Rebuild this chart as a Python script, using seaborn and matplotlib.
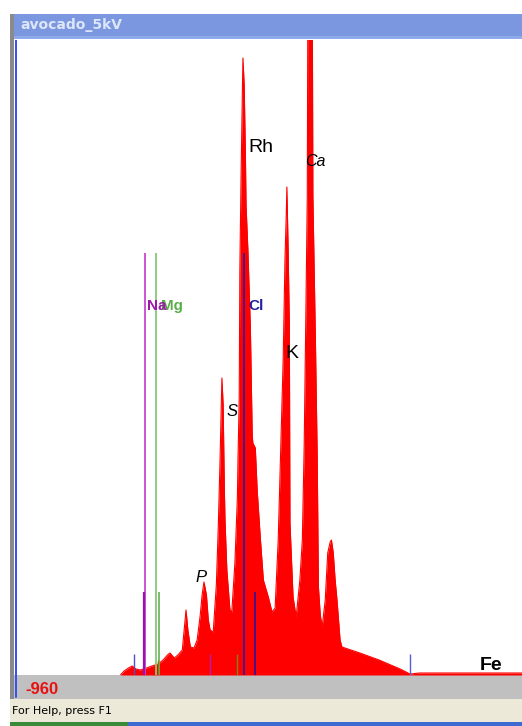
import numpy as np
import pandas as pd
import seaborn as sns
import matplotlib.pyplot as plt
from matplotlib.patches import Rectangle

# spectrum: energy (keV) vs counts (arbitrary, px-like)
energy = [0.64, 0.70, 0.77, 0.83, 0.89, 0.96, 1.06, 1.15, 1.25, 1.33, 1.40, 1.44,
          1.51, 1.57, 1.64, 1.67, 1.70, 1.73, 1.77, 1.83, 1.88, 1.93, 1.96, 1.99,
          2.03, 2.06, 2.09, 2.14, 2.19, 2.22, 2.25, 2.27, 2.28, 2.30, 2.32, 2.33,
          2.36, 2.41, 2.44, 2.49, 2.53, 2.54, 2.56, 2.57, 2.59, 2.61, 2.62, 2.64,
          2.66, 2.67, 2.70, 2.74, 2.77, 2.78, 2.82, 2.85, 2.90, 2.95, 3.03, 3.09,
          3.14, 3.19, 3.22, 3.27, 3.30, 3.32, 3.33, 3.35, 3.37, 3.38, 3.43, 3.48,
          3.54, 3.58, 3.61, 3.64, 3.66, 3.67, 3.74, 3.75, 3.79, 3.82, 3.84, 3.87,
          3.90, 3.95, 3.99, 4.03, 4.05, 4.08, 4.11, 4.14, 4.19, 4.22, 4.51, 4.82,
          5.16, 5.32, 5.48, 7.13]
counts = [0, 4, 7, 9, 6, 5, 7, 9, 11, 15, 20, 22,
          17, 20, 25, 45, 65, 45, 28, 27, 35, 60, 80, 93,
          80, 55, 45, 43, 90, 145, 215, 270, 297, 270, 185, 155,
          105, 65, 63, 112, 177, 215, 278, 405, 500, 580, 617, 590,
          520, 470, 425, 348, 240, 232, 227, 185, 138, 95, 78, 63,
          67, 135, 202, 315, 417, 460, 488, 427, 350, 152, 78, 58,
          95, 135, 230, 377, 480, 700, 700, 480, 340, 220, 88, 60,
          48, 75, 122, 133, 135, 122, 95, 75, 35, 28, 22, 15,
          6, 1, 2, 2]

# KLM marker lines: energy, height, colour, width
marker_e = [1.04, 1.22, 1.02, 1.27, 1.24, 0.86, 2.09, 2.53, 2.64, 2.82, 5.32]
marker_h = [422, 422, 83, 83, 15, 21, 21, 21, 422, 83, 21]
marker_c = ['#c848d0', '#88c878', '#9a10b0', '#70b860', '#8a7a10', '#5050d0',
            '#b020b0', '#7a8a10', '#2a1aa0', '#3010a0', '#5a5ad8']
marker_w = [1.3, 1.3, 1.6, 1.3, 1.0, 1.0, 1.0, 1.0, 1.2, 1.2, 1.0]

# element labels: text, energy, counts, colour, style, weight, size
labels = [('Rh', 2.71, 527, 'black', 'normal', 'medium', 14),
          ('Ca', 3.63, 513, 'black', 'italic', 'normal', 11.5),
          ('Mg', 1.30, 369, '#5aae4a', 'normal', 'bold', 11),
          ('Na', 1.07, 369, '#9a1aa8', 'normal', 'bold', 11),
          ('Cl', 2.70, 369, '#2020a0', 'normal', 'bold', 11),
          ('K', 3.30, 322, 'black', 'normal', 'normal', 14),
          ('S', 2.36, 264, 'black', 'italic', 'normal', 12),
          ('P', 1.86, 98, 'black', 'italic', 'normal', 12),
          ('Fe', 6.45, 10, 'black', 'normal', 'bold', 14)]

sns.set_style('white')
plt.rcParams['font.family'] = ['Liberation Sans', 'DejaVu Sans']

W, H = 522, 726
fig = plt.figure(figsize=(W / 100, H / 100), dpi=100)
fig.patch.set_facecolor('white')

# window chrome drawn in pixel coordinates
bg = fig.add_axes([0, 0, 1, 1])
bg.set_xlim(0, W)
bg.set_ylim(H, 0)
bg.axis('off')
bg.add_patch(Rectangle((10, 14), W - 10, 25, color='#7b97e0', lw=0))
bg.add_patch(Rectangle((10, 36), W - 10, 3, color='#8eaaea', lw=0))
bg.add_patch(Rectangle((10, 14), 4, 686, color='#8a8a8a', lw=0))
bg.add_patch(Rectangle((14, 675), W - 14, 24, color='#c0c0c0', lw=0))
bg.add_patch(Rectangle((10, 699), W - 10, 23, color='#ece9d8', lw=0))
bg.add_patch(Rectangle((10, 722), 118, 4, color='#3a8a3a', lw=0))
bg.add_patch(Rectangle((128, 722), W - 128, 4, color='#3c6ad0', lw=0))
bg.text(20, 25, 'avocado_5kV', color='#dde6f8', fontsize=10, fontweight='bold',
        family='DejaVu Sans', va='center', ha='left')
bg.text(25, 690, '-960', color='#e81010', fontsize=12, fontweight='bold',
        va='center', ha='left')
bg.text(12, 711, 'For Help, press F1', color='black', fontsize=8,
        family='DejaVu Sans', va='center', ha='left')

# spectrum panel
ax = fig.add_axes([14 / W, 1 - 675 / H, (W - 14) / W, 635 / H])
df = pd.DataFrame({'energy': energy, 'counts': counts})
ax.fill_between(df['energy'], df['counts'], 0, color='#ff0000', lw=0)
sns.lineplot(data=df, x='energy', y='counts', ax=ax, color='#ff0000',
             lw=0.8, estimator=None, sort=False)
ax.vlines(marker_e, 0, marker_h, colors=marker_c, linewidths=marker_w)
ax.axvline(-1.04, color='#3050f0', lw=1.4)
for t, e, c, col, st, wt, sz in labels:
    ax.text(e, c, t, color=col, style=st, fontweight=wt, fontsize=sz,
            va='center', ha='left')
ax.set_xlim(-1.08, 7.13)
ax.set_ylim(0, 635)
ax.set_xlabel('')
ax.set_ylabel('')
ax.set_xticks([])
ax.set_yticks([])
for s in ax.spines.values():
    s.set_visible(False)

bg.plot([16, 16], [675, 697], color='#3050f0', lw=1.4)

fig.savefig('out.png', dpi=100)
